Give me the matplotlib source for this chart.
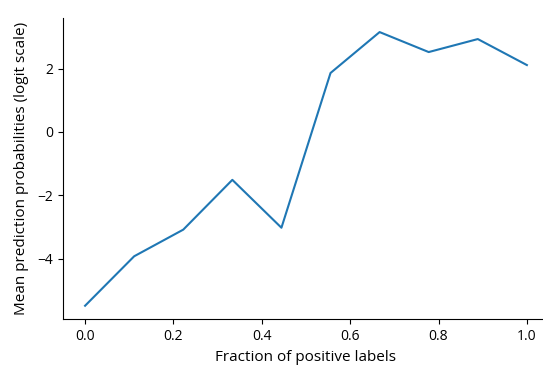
import matplotlib
matplotlib.use("Agg")
import matplotlib.pyplot as plt
import numpy as np

plt.rcParams['font.family'] = ['Open Sans', 'DejaVu Sans']

fraction = [0.0, 1/9, 2/9, 3/9, 4/9, 5/9, 6/9, 7/9, 8/9, 1.0]
mean_logit = [-5.48, -3.92, -3.08, -1.51, -3.02, 1.86, 3.15, 2.52, 2.93, 2.11]

fig = plt.figure(figsize=(5.43, 3.68), dpi=100)
ax = fig.add_axes([0.116, 0.132, 0.895, 0.818])
ax.plot(fraction, mean_logit, color='#1f77b4', lw=1.5)
ax.set_xticks([0.0, 0.2, 0.4, 0.6, 0.8, 1.0])
ax.set_yticks([-4, -2, 0, 2])
ax.tick_params(labelsize=10)
ax.set_xlabel('Fraction of positive labels', fontsize=11, labelpad=4)
ax.set_ylabel('Mean prediction probabilities (logit scale)', fontsize=11, labelpad=6)
ax.spines['top'].set_visible(False)
ax.spines['right'].set_visible(False)
fig.savefig('out.png', dpi=100)
